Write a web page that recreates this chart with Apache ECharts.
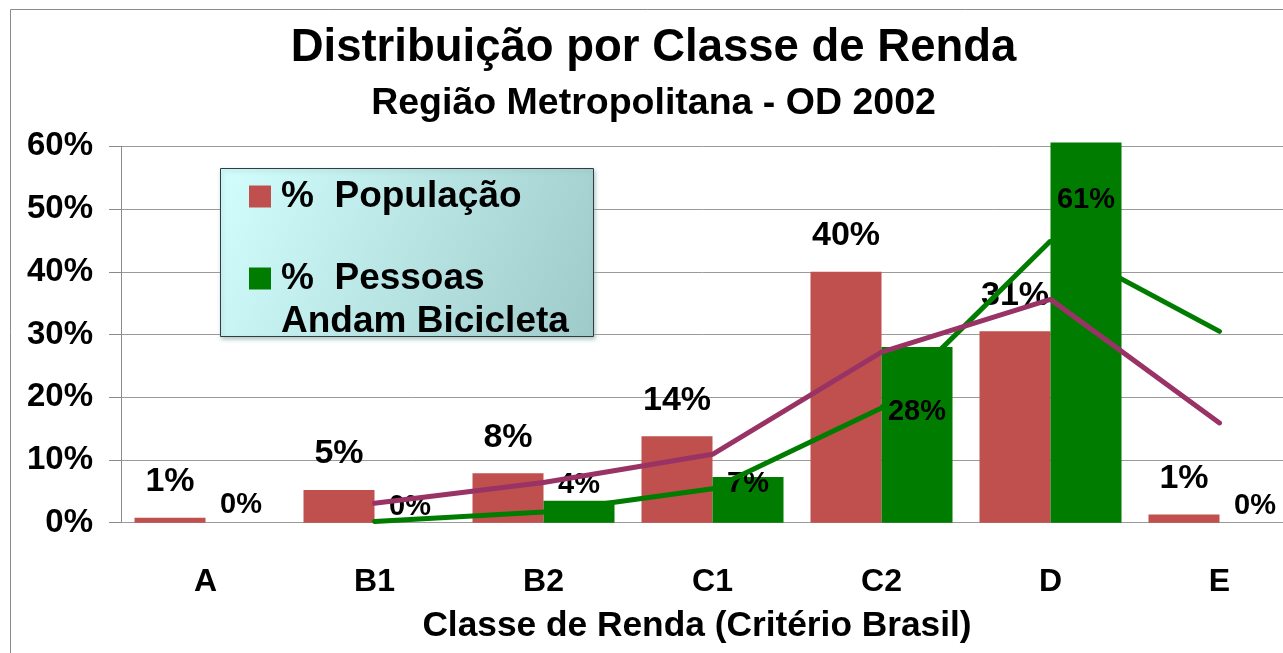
<!DOCTYPE html>
<html>
<head>
<meta charset="utf-8">
<script src="https://cdn.jsdelivr.net/npm/echarts@6/dist/echarts.min.js"></script>
<style>html,body{margin:0;padding:0;background:#fff}#c{width:1283px;height:653px}</style>
</head>
<body>
<div id="c"></div>
<script>
// ---- data ----
const categories = ['A', 'B1', 'B2', 'C1', 'C2', 'D', 'E'];
const populacao = [0.8, 5.2, 7.9, 13.8, 40.0, 30.5, 1.3];
const bicicleta = [0.0, 0.0, 3.5, 7.3, 28.0, 60.6, 0.0];
const tendPopulacao = [null, 3.1, 6.4, 10.9, 27.2, 35.6, 15.9];
const tendBicicleta = [null, 0.2, 1.7, 5.4, 18.3, 44.9, 30.5];
const yTicks = [0, 10, 20, 30, 40, 50, 60];

// label vertical nudges for the bicycle labels (style only)
const bikeLabelDy = [2, 4, 4, 27, 84, 77, 3];

const FONT = '"Liberation Sans", Arial, sans-serif';
const nameP = '%  População';
const nameB = '%  Pessoas\nAndam Bicicleta';

const chart = echarts.init(document.getElementById('c'), null, {renderer: 'canvas'});
const option = {
  animation: false,
  backgroundColor: '#ffffff',
  textStyle: {fontFamily: FONT},
  title: [
    {text: 'Distribuição por Classe de Renda', left: 653.5, textAlign: 'center', top: 25, padding: 0,
     textStyle: {fontSize: 45.5, fontWeight: 'bold', color: '#000', fontFamily: FONT}},
    {text: 'Região Metropolitana - OD 2002', left: 653.5, textAlign: 'center', top: 85, padding: 0,
     textStyle: {fontSize: 37.5, fontWeight: 'bold', color: '#000', fontFamily: FONT}}
  ],
  graphic: [
    {type: 'rect', z: -10, silent: true,
     shape: {x: 10.5, y: 9.5, width: 1400, height: 800},
     style: {fill: 'none', stroke: '#8a8a8a', lineWidth: 1}},
    {type: 'rect', z: 5, silent: true,
     shape: {x: 220.5, y: 168.5, width: 373, height: 168},
     style: {
       fill: {type: 'linear', x: 0, y: 0, x2: 1, y2: 1,
              colorStops: [{offset: 0, color: '#d2fefe'}, {offset: 1, color: '#9fcaca'}]},
       stroke: '#3a3a3a', lineWidth: 1,
       shadowBlur: 4, shadowOffsetX: 1, shadowOffsetY: 2, shadowColor: 'rgba(120,170,170,0.6)'
     }}
  ],
  legend: {
    z: 10,
    orient: 'vertical',
    left: 249, top: 175,
    padding: 0,
    itemWidth: 32, itemHeight: 22,
    itemGap: -4,
    icon: 'path://M0,0L10,0L10,10L0,10Z',
    symbolKeepAspect: true,
    selectedMode: false,
    formatter: n => (n === nameB ? ' \n' + n : n),
    textStyle: {fontSize: 37, fontWeight: 'bold', color: '#000', lineHeight: 43, fontFamily: FONT},
    data: [
      {name: nameP, itemStyle: {color: '#c0504d'}},
      {name: nameB, itemStyle: {color: '#007d00'}}
    ]
  },
  grid: {left: 121, width: 1183, top: 146.3, bottom: 130.3, containLabel: false, outerBoundsMode: 'none'},
  xAxis: {
    type: 'category',
    data: categories,
    axisLine: {show: true, lineStyle: {color: '#9a9a9a', width: 1}},
    axisTick: {show: false},
    axisLabel: {margin: 43, fontSize: 32, fontWeight: 'bold', color: '#000', fontFamily: FONT},
    name: 'Classe de Renda (Critério Brasil)',
    nameLocation: 'middle',
    nameGap: 86,
    nameTextStyle: {fontSize: 35.3, fontWeight: 'bold', color: '#000', fontFamily: FONT, padding: [0, 31, 0, 0]}
  },
  yAxis: {
    type: 'value',
    min: yTicks[0], max: yTicks[yTicks.length - 1], interval: 10,
    axisLine: {show: true, lineStyle: {color: '#8a8a8a', width: 1}},
    axisTick: {show: true, length: 12, lineStyle: {color: '#8a8a8a'}},
    splitLine: {show: true, lineStyle: {color: '#9a9a9a', width: 1}},
    axisLabel: {margin: 28, fontSize: 33, fontWeight: 'bold', color: '#000', fontFamily: FONT,
                formatter: v => v + '%'}
  },
  series: [
    {
      name: nameP, type: 'bar', data: populacao, barWidth: 71, barGap: '0%', clip: false,
      itemStyle: {color: '#c0504d'},
      label: {show: true, position: 'top', distance: 19, fontSize: 34, fontWeight: 'bold',
              color: '#000', fontFamily: FONT, formatter: p => Math.round(p.value) + '%'}
    },
    {
      name: nameB, type: 'bar', barWidth: 71, barGap: '0%', clip: false,
      itemStyle: {color: '#007d00'},
      data: bicicleta.map((v, i) => ({
        value: v,
        label: {offset: [0, bikeLabelDy[i]]}
      })),
      label: {show: true, position: 'top', distance: 5, fontSize: 29, fontWeight: 'bold',
              color: '#000', fontFamily: FONT, formatter: p => Math.round(p.value) + '%'}
    },
    {
      name: 'tendP', type: 'line', data: tendPopulacao, z: 4, symbol: 'none', clip: false,
      lineStyle: {color: '#993366', width: 5, cap: 'round'}, connectNulls: false
    },
    {
      name: 'tendB', type: 'line', data: tendBicicleta, z: 3, symbol: 'none', clip: false,
      lineStyle: {color: '#007d00', width: 5, cap: 'round'}, connectNulls: false
    }
  ]
};
chart.setOption(option);
</script>
</body>
</html>
